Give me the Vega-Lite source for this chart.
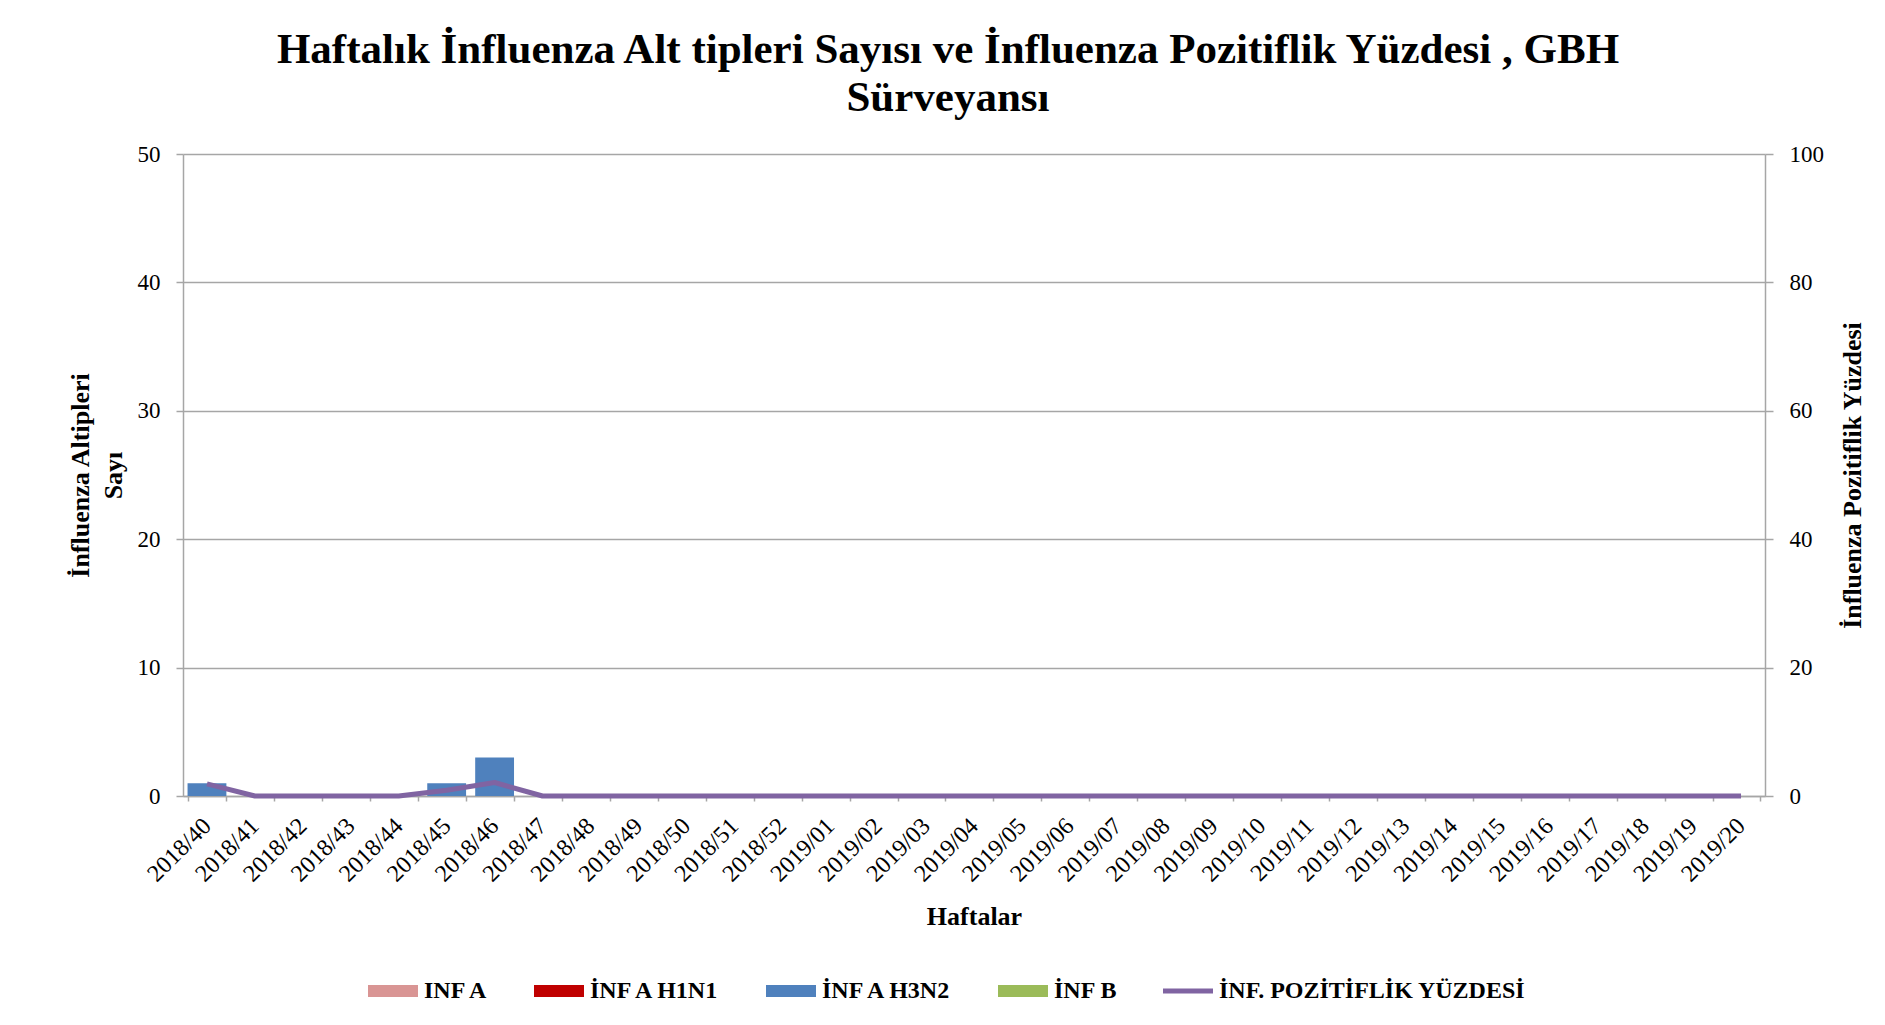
{
  "$schema": "https://vega.github.io/schema/vega-lite/v6.json",
  "autosize": {"type": "none"},
  "padding": {"left": 183, "top": 154, "right": 120, "bottom": 229},
  "width": 1582,
  "height": 642,
  "background": "white",
  "config": {
    "font": "Liberation Serif",
    "view": {"stroke": null},
    "axis": {"labelFont": "Liberation Serif", "titleFont": "Liberation Serif", "labelColor": "#000000", "titleColor": "#000000"}
  },
  "title": {
    "text": ["Haftalık İnfluenza Alt tipleri Sayısı ve İnfluenza Pozitiflik Yüzdesi , GBH", "Sürveyansı"],
    "font": "Liberation Serif",
    "fontSize": 43,
    "fontWeight": "bold",
    "lineHeight": 48,
    "color": "#000000",
    "anchor": "middle",
    "dx": -26,
    "offset": 23
  },
  "datasets": {
    "altipler": [
      {"hafta": "2018/40", "tip": "İNF A H3N2", "sayi": 1},
      {"hafta": "2018/45", "tip": "İNF A H3N2", "sayi": 1},
      {"hafta": "2018/46", "tip": "İNF A H3N2", "sayi": 3}
    ],
    "pozitiflik": [
      {"hafta": "2018/40", "yuzde": 1.9},
      {"hafta": "2018/41", "yuzde": 0},
      {"hafta": "2018/42", "yuzde": 0},
      {"hafta": "2018/43", "yuzde": 0},
      {"hafta": "2018/44", "yuzde": 0},
      {"hafta": "2018/45", "yuzde": 0.9},
      {"hafta": "2018/46", "yuzde": 2.1},
      {"hafta": "2018/47", "yuzde": 0},
      {"hafta": "2018/48", "yuzde": 0},
      {"hafta": "2018/49", "yuzde": 0},
      {"hafta": "2018/50", "yuzde": 0},
      {"hafta": "2018/51", "yuzde": 0},
      {"hafta": "2018/52", "yuzde": 0},
      {"hafta": "2019/01", "yuzde": 0},
      {"hafta": "2019/02", "yuzde": 0},
      {"hafta": "2019/03", "yuzde": 0},
      {"hafta": "2019/04", "yuzde": 0},
      {"hafta": "2019/05", "yuzde": 0},
      {"hafta": "2019/06", "yuzde": 0},
      {"hafta": "2019/07", "yuzde": 0},
      {"hafta": "2019/08", "yuzde": 0},
      {"hafta": "2019/09", "yuzde": 0},
      {"hafta": "2019/10", "yuzde": 0},
      {"hafta": "2019/11", "yuzde": 0},
      {"hafta": "2019/12", "yuzde": 0},
      {"hafta": "2019/13", "yuzde": 0},
      {"hafta": "2019/14", "yuzde": 0},
      {"hafta": "2019/15", "yuzde": 0},
      {"hafta": "2019/16", "yuzde": 0},
      {"hafta": "2019/17", "yuzde": 0},
      {"hafta": "2019/18", "yuzde": 0},
      {"hafta": "2019/19", "yuzde": 0},
      {"hafta": "2019/20", "yuzde": 0}
    ]
  },
  "layer": [
    {
      "data": {"name": "altipler"},
      "mark": {"type": "bar"},
      "encoding": {
        "x": {
          "field": "hafta", "type": "ordinal", "sort": "ascending",
          "scale": {"paddingInner": 0.19, "paddingOuter": 0.095},
          "axis": {
            "title": "Haftalar",
            "titleFontSize": 26, "titleFontWeight": "bold", "titlePadding": 17,
            "labelAngle": -45, "labelAlign": "right", "labelBaseline": "middle",
            "labelFontSize": 24, "labelPadding": 21,
            "tickBand": "extent", "tickSize": 5, "tickColor": "#A6A6A6", "tickWidth": 1.5,
            "domainColor": "#A6A6A6", "domainWidth": 1.5,
            "grid": false
          }
        },
        "y": {
          "field": "sayi", "type": "quantitative", "stack": "zero",
          "scale": {"domain": [0, 50], "nice": false},
          "axis": {
            "title": ["İnfluenza Altipleri", "Sayı"],
            "titleFontSize": 26, "titleFontWeight": "bold", "titleLineHeight": 33, "titlePadding": 11,
            "values": [0, 10, 20, 30, 40, 50],
            "labelFontSize": 23, "labelPadding": 16,
            "tickSize": 7, "tickColor": "#A6A6A6", "tickWidth": 1.5,
            "domainColor": "#A6A6A6", "domainWidth": 1.5,
            "grid": true, "gridColor": "#A6A6A6", "gridWidth": 1.5
          }
        },
        "color": {
          "field": "tip", "type": "nominal",
          "scale": {
            "domain": ["INF A", "İNF A H1N1", "İNF A H3N2", "İNF B", "İNF. POZİTİFLİK YÜZDESİ"],
            "range": ["#D99594", "#C00000", "#4F81BD", "#9BBB59", "#8064A2"]
          },
          "legend": {
            "title": null,
            "orient": "none",
            "direction": "horizontal",
            "legendX": 185,
            "legendY": 812,
            "labelFont": "Liberation Serif",
            "labelFontSize": 24,
            "labelFontWeight": "bold",
            "labelColor": "#000000",
            "labelOffset": 6,
            "columnPadding": 45,
            "symbolSize": 2500,
            "symbolStrokeWidth": 0,
            "symbolType": "M-1,-0.24H1V0.24H-1Z",
            "labelLimit": 600,
            "encode": {
              "symbols": {
                "update": {
                  "shape": {"signal": "datum.value == 'İNF. POZİTİFLİK YÜZDESİ' ? 'M-1,-0.1H1V0.1H-1Z' : 'M-1,-0.24H1V0.24H-1Z'"},
                  "fill": {"signal": "scale('color', datum.value)"},
                  "strokeWidth": {"value": 0},
                  "opacity": {"value": 1}
                }
              }
            }
          }
        },
        "order": {"field": "tip"}
      }
    },
    {
      "data": {"name": "pozitiflik"},
      "mark": {"type": "line", "strokeWidth": 5, "strokeJoin": "round"},
      "encoding": {
        "x": {"field": "hafta", "type": "ordinal", "sort": "ascending"},
        "y": {
          "field": "yuzde", "type": "quantitative",
          "scale": {"domain": [0, 100], "nice": false},
          "axis": {
            "orient": "right",
            "title": "İnfluenza Pozitiflik Yüzdesi",
            "titleFontSize": 26, "titleFontWeight": "bold", "titleAngle": 270, "titleBaseline": "top", "titlePadding": 16,
            "values": [0, 20, 40, 60, 80, 100],
            "labelFontSize": 23, "labelPadding": 16,
            "tickSize": 8, "tickColor": "#A6A6A6", "tickWidth": 1.5,
            "domainColor": "#A6A6A6", "domainWidth": 1.5,
            "grid": false
          }
        },
        "color": {"datum": "İNF. POZİTİFLİK YÜZDESİ"}
      }
    }
  ],
  "resolve": {"scale": {"y": "independent"}}
}
